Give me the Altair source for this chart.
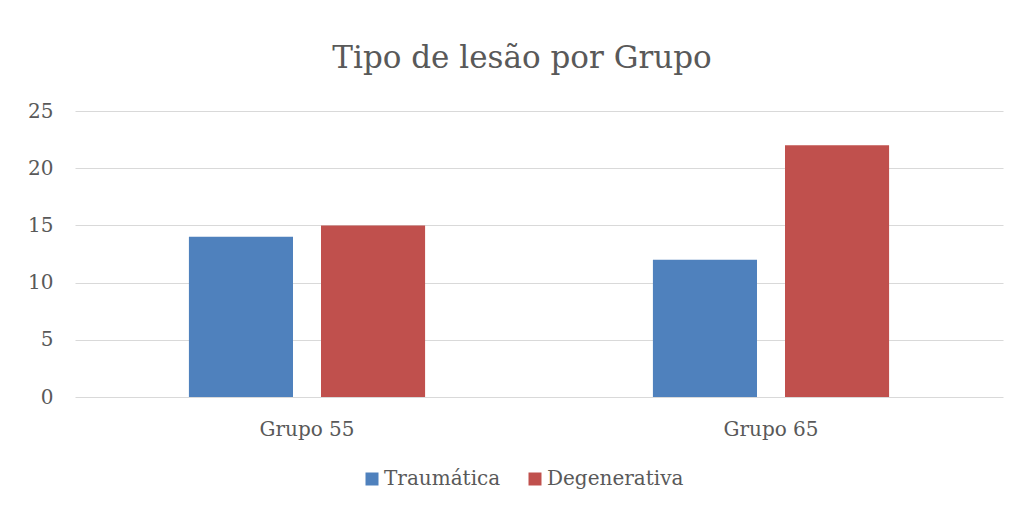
import altair as alt
import pandas as pd

grupos = ["Grupo 55", "Grupo 65"]
series = ["Traumática", "Degenerativa"]
traumatica = [14, 12]
degenerativa = [15, 22]
colors = ["#4F81BD", "#C0504D"]

rows = []
for g, t, d in zip(grupos, traumatica, degenerativa):
    rows.append({"grupo": g, "tipo": series[0], "valor": t})
    rows.append({"grupo": g, "tipo": series[1], "valor": d})
df = pd.DataFrame(rows)

FONT = "DejaVu Serif"
TXT = "#595959"

chart = alt.Chart(df).mark_bar().encode(
    x=alt.X("grupo:N", sort=grupos, title=None,
            scale=alt.Scale(paddingInner=0.491, paddingOuter=0.2455),
            axis=alt.Axis(labelAngle=0, labelFontSize=20, labelColor=TXT, labelFont=FONT,
                          ticks=False, domain=False, grid=False, labelPadding=22)),
    xOffset=alt.XOffset("tipo:N", sort=series,
                        scale=alt.Scale(paddingInner=0.212, paddingOuter=0)),
    y=alt.Y("valor:Q", title=None,
            scale=alt.Scale(domain=[0, 25]),
            axis=alt.Axis(values=[0, 5, 10, 15, 20, 25], labelFontSize=20, labelColor=TXT,
                          labelFont=FONT, ticks=False, domain=False, labelPadding=22,
                          gridColor="#D9D9D9", gridWidth=1)),
    color=alt.Color("tipo:N", sort=series,
                    scale=alt.Scale(domain=series, range=colors),
                    legend=alt.Legend(title=None, orient="none", direction="horizontal",
                                      legendX=287, legendY=358, symbolType="square",
                                      symbolSize=169, symbolStrokeWidth=0,
                                      labelFontSize=20, labelColor=TXT, labelFont=FONT,
                                      labelOffset=2, columnPadding=24)),
).properties(
    width=928, height=286,
    background="white",
    title=alt.TitleParams("Tipo de lesão por Grupo", fontSize=31, font=FONT,
                          fontWeight="normal", color=TXT, anchor="middle", offset=26,
                          dx=-17),
    autosize=alt.AutoSizeParams(type="none"),
    padding={"left": 67, "top": 103, "right": 6, "bottom": 104},
).configure_view(stroke=None)

chart.save("out.html", embed_options={"renderer": "svg", "actions": False})
